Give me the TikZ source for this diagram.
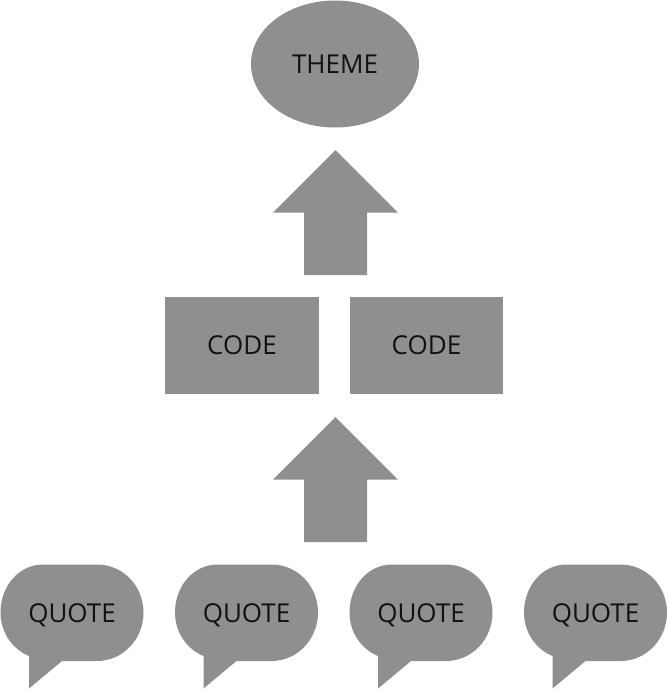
\documentclass[tikz,border=0pt]{standalone}
\usepackage{fontspec}
\setmainfont{Open Sans}
\usetikzlibrary{shapes.geometric}
\definecolor{fillgray}{HTML}{8F8F8F}
\definecolor{labelink}{HTML}{111111}
\tikzset{
  x=1pt,y=-1pt,
  shapefill/.style={fill=fillgray,draw=none},
  lbl/.style={text=labelink,font=\fontsize{26}{30}\selectfont,inner sep=0pt},
  rectbox/.style={shapefill,minimum width=153.5pt,minimum height=97.5pt,inner sep=0pt,font=\fontsize{26}{30}\selectfont,text=labelink},
  themeshape/.style={shapefill,ellipse,minimum width=168pt,minimum height=127pt,inner sep=0pt,font=\fontsize{26}{30}\selectfont,text=labelink},
}
\newcommand{\bubble}[1]{%
  \fill[fillgray] (#1+43,564.5) -- (#1+97,564.5)
     .. controls (#1+123,564.5) and (#1+143.5,586) .. (#1+143.5,612.5)
     .. controls (#1+143.5,639) and (#1+123,661) .. (#1+97,661)
     -- (#1+62,661) -- (#1+29,688.5) -- (#1+29,656)
     .. controls (#1+12,649) and (#1+0.5,632) .. (#1+0.5,612.5)
     .. controls (#1+0.5,586) and (#1+19,564.5) .. (#1+43,564.5) -- cycle;}
\newcommand{\uparrowshape}[1]{%
  \fill[fillgray] (335.5,#1) -- (398,#1+62.5) -- (367,#1+62.5) -- (367,#1+125) -- (304,#1+125) -- (304,#1+62.5) -- (273,#1+62.5) -- cycle;}
\begin{document}
\begin{tikzpicture}
\useasboundingbox (0,0) rectangle (669,691);
\node[themeshape] (theme) at (335,64) {\raisebox{-2.5pt}{THEME}};
\uparrowshape{150}
\node[rectbox] (code1) at (242,345.5) {\raisebox{-2.5pt}{CODE}};
\node[rectbox] (code2) at (426.5,345.5) {\raisebox{-2.5pt}{CODE}};
\uparrowshape{417}
\bubble{0}
\bubble{174.5}
\bubble{349}
\bubble{523.5}
\node[lbl] (q1) at (72,615) {QUOTE};
\node[lbl] (q2) at (246.5,615) {QUOTE};
\node[lbl] (q3) at (421,615) {QUOTE};
\node[lbl] (q4) at (595.5,615) {QUOTE};
\end{tikzpicture}
\end{document}
